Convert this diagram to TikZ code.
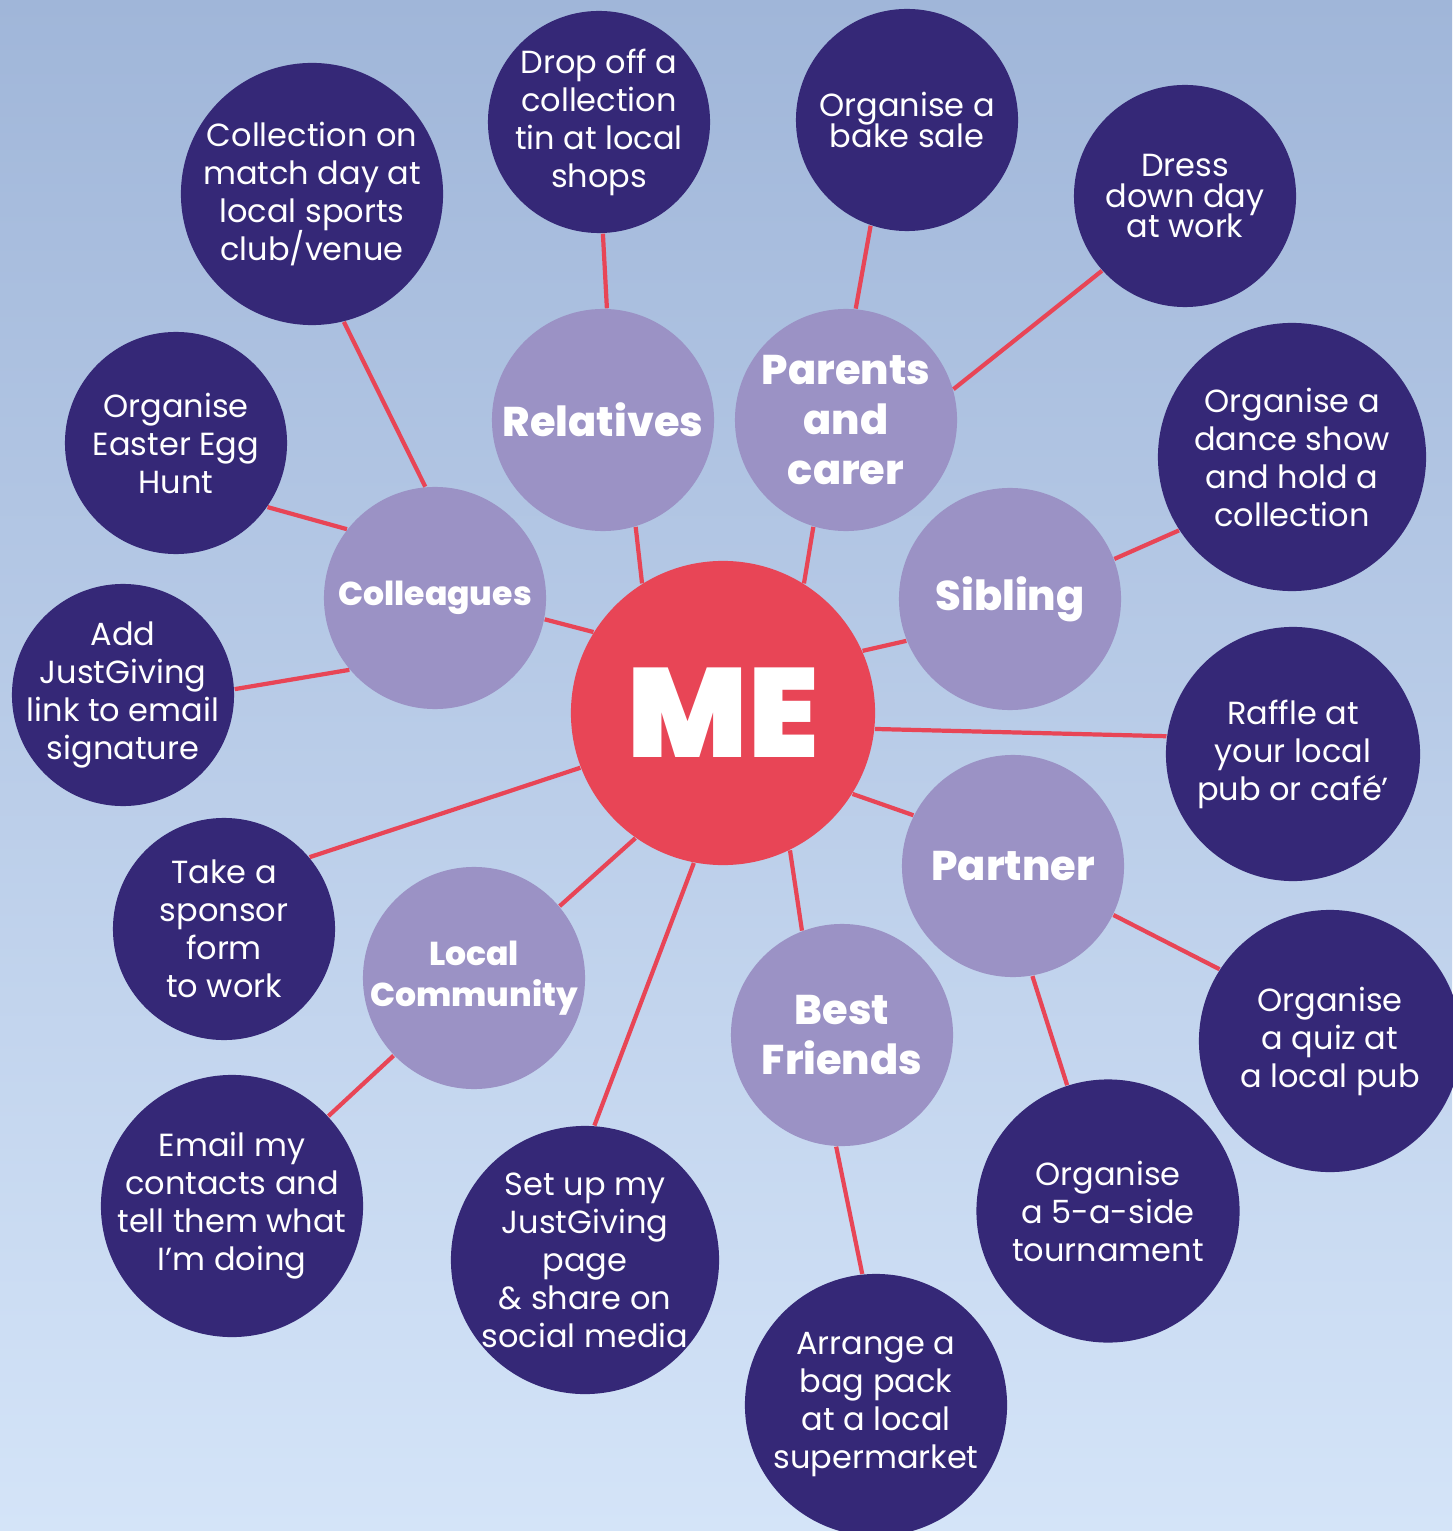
\documentclass[tikz,border=0pt]{standalone}
\usepackage{fontspec}
\setmainfont{Poppins}
\newfontfamily\heavyfont{Poppins ExtraBold}
\newfontfamily\blackfont{Poppins Black}
\usetikzlibrary{positioning}
\definecolor{bgtop}{RGB}{160,182,217}
\definecolor{bgbottom}{RGB}{212,228,248}
\definecolor{ideacol}{RGB}{53,40,119}
\definecolor{groupcol}{RGB}{155,146,197}
\definecolor{mecol}{RGB}{232,69,86}
\definecolor{linkcol}{RGB}{232,69,86}
\lineskiplimit=-10pt
\tikzset{
  idea node/.style={circle, fill=ideacol, text=white, align=center, inner sep=-8pt,
    minimum size=#1, font=\fontsize{9.1}{10.8}\selectfont},
  idea node/.default=2.22cm,
  group node/.style={circle, fill=groupcol, text=white, align=center, inner sep=-4pt,
    minimum size=2.22cm, font=\heavyfont\fontsize{11.8}{14.2}\selectfont},
  small group/.style={group node, font=\heavyfont\fontsize{9.4}{11.7}\selectfont},
  tight/.style={font=\fontsize{9.1}{8.8}\selectfont},
  link/.style={draw=linkcol, line width=1.2pt},
}

\begin{document}
\begin{tikzpicture}[x=0.01cm, y=-0.01cm]
        \useasboundingbox (0,0) rectangle (1452,1531);
        \shade[top color=bgtop, bottom color=bgbottom] (0,0) rectangle (1452,1531);
        % Nodes
        \node[circle, fill=mecol, text=white, inner sep=0pt, minimum size=3.04cm,
          font=\blackfont\fontsize{36}{36}\selectfont] (me) at (723,713) {ME};
        \node[group node] (relatives) at (603,420) {Relatives};
        \node[group node] (parents) at (846,420) {Parents\\and\\carer};
        \node[group node] (sibling) at (1010,599) {Sibling};
        \node[small group] (colleagues) at (435,598) {Colleagues};
        \node[group node] (partner) at (1013,866) {Partner};
        \node[small group] (community) at (474,978) {Local\\Community};
        \node[group node] (friends) at (842,1035) {Best\\Friends};
        \node[idea node=2.62cm] (matchday) at (312,194) {Collection on\\match day at\\local sports\\club/venue};
        \node[idea node] (tin) at (599,122) {Drop off a\\collection\\tin at local\\shops};
        \node[idea node, tight] (bakesale) at (907,120) {Organise a\\bake sale};
        \node[idea node, tight] (dressdown) at (1185,196) {Dress\\down day\\at work};
        \node[idea node] (easter) at (176,443) {Organise\\Easter Egg\\Hunt};
        \node[idea node=2.68cm] (dance) at (1292,457) {Organise a\\dance show\\and hold a\\collection};
        \node[idea node] (signature) at (123,695) {Add\\JustGiving\\link to email\\signature};
        \node[idea node=2.54cm] (raffle) at (1293,754) {Raffle at\\your local\\pub or café’};
        \node[idea node] (sponsor) at (224,929) {Take a\\sponsor\\form\\to work};
        \node[idea node=2.62cm] (quiz) at (1330,1041) {Organise\\a quiz at\\a local pub};
        \node[idea node=2.62cm] (contacts) at (232,1206) {Email my\\contacts and\\tell them what\\I’m doing};
        \node[idea node=2.68cm] (setup) at (585,1260) {Set up my\\JustGiving\\page\\\& share on\\social media};
        \node[idea node=2.63cm] (fiveaside) at (1108,1211) {Organise\\a 5-a-side\\tournament};
        \node[idea node=2.62cm] (bagpack) at (876,1405) {Arrange a\\bag pack\\at a local\\supermarket};
        % Paths
        \path[link]
        (me.122) edge (relatives.287)
        (me.58) edge (parents.253)
        (me.24) edge (sibling.202)
        (me.-6) edge (raffle.172)
        (me.-32) edge (partner.153)
        (me.-64) edge (friends.111)
        (me.259) edge (setup.86)
        (me.235) edge (community.40)
        (me.201) edge (sponsor.40)
        (me.148) edge (colleagues.-11)
        (colleagues.220) edge (signature.3)
        (colleagues.142) edge (easter.-35)
        (colleagues.95) edge (matchday.-76)
        (relatives.88) edge (tin.-88)
        (parents.85) edge (bakesale.251)
        (parents.16) edge (dressdown.222)
        (sibling.21) edge (dance.213)
        (partner.-26) edge (quiz.147)
        (partner.-80) edge (fiveaside.108)
        (friends.267) edge (bagpack.96)
        (community.224) edge (contacts.43);
    \end{tikzpicture}
\end{document}
